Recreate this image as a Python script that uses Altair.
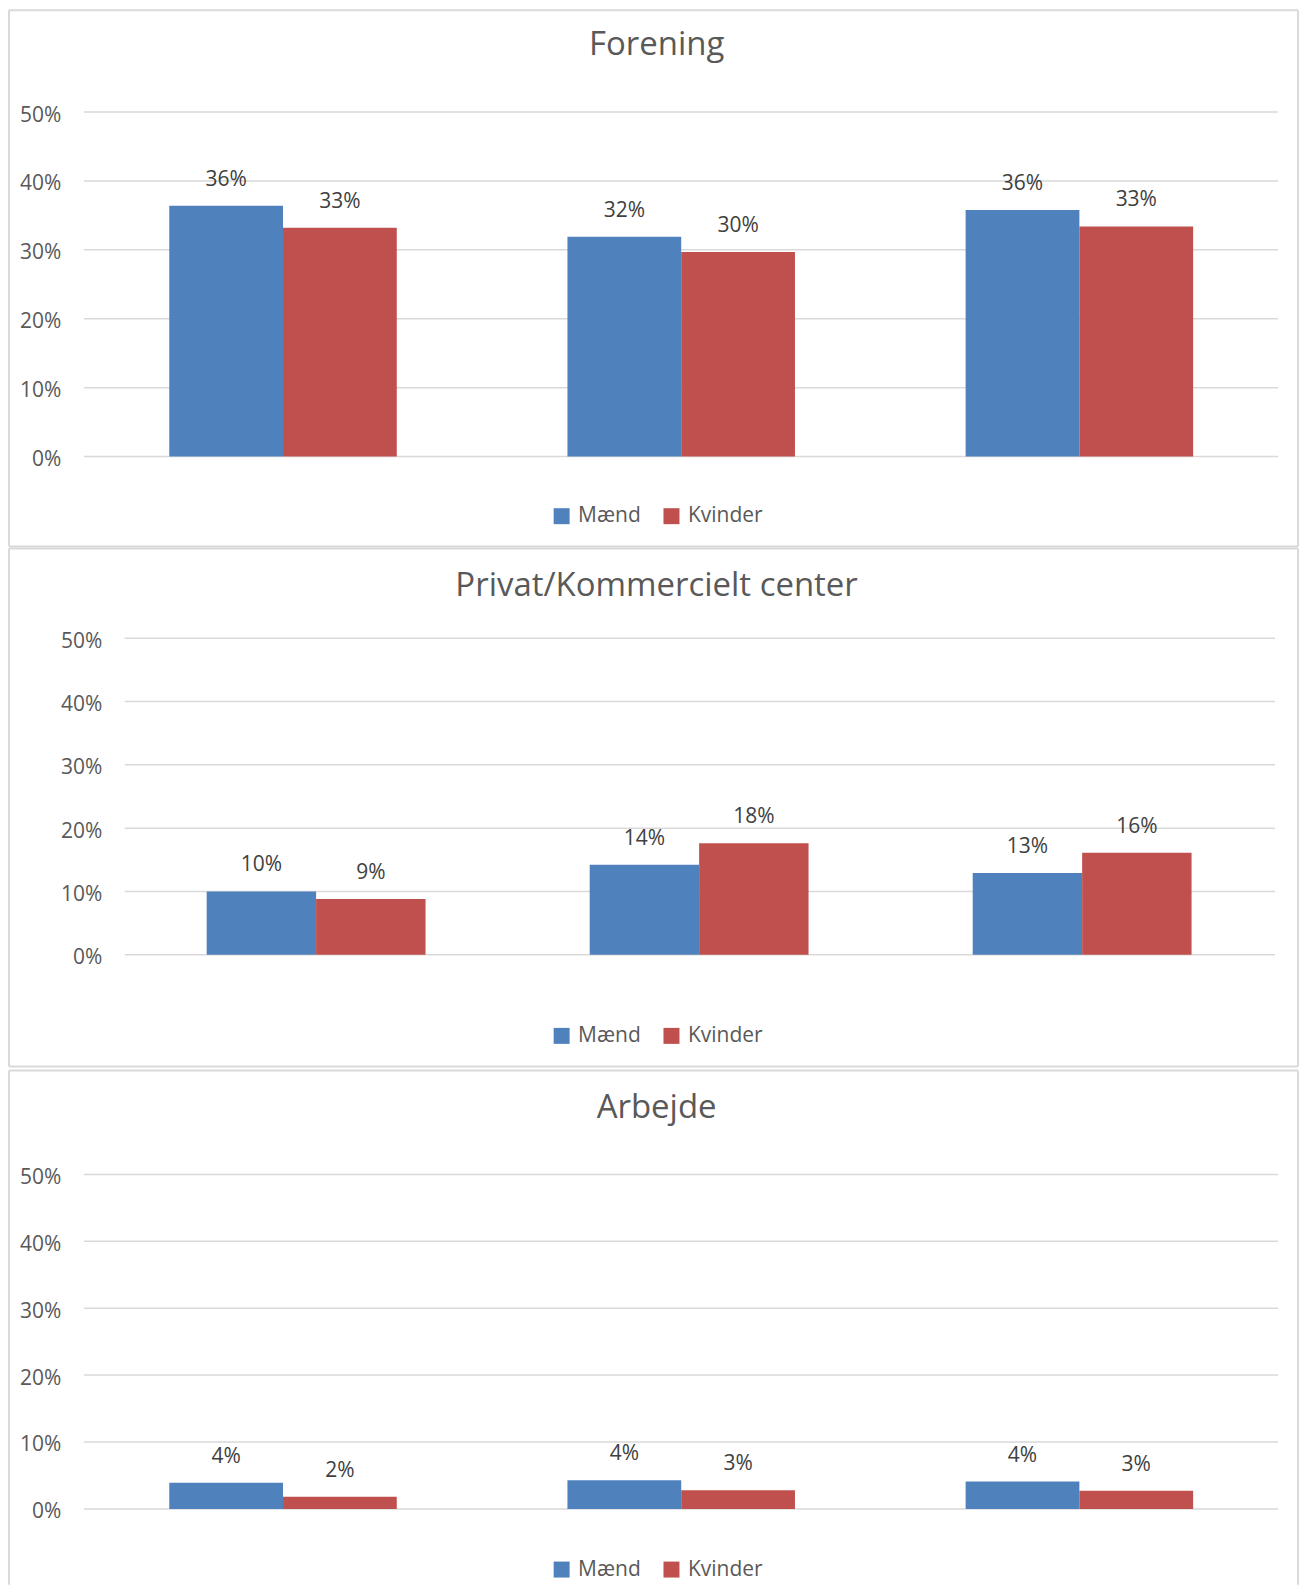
import altair as alt
import pandas as pd

categories = ["Gruppe 1", "Gruppe 2", "Gruppe 3"]
series = ["Mænd", "Kvinder"]
colors = ["#4F81BD", "#C0504D"]
tick_values = [0, 10, 20, 30, 40, 50]

panel_titles = ["Forening", "Privat/Kommercielt center", "Arbejde"]
forening_maend = [36.4, 31.9, 35.8]
forening_kvinder = [33.2, 29.7, 33.4]
privat_maend = [10.0, 14.2, 12.9]
privat_kvinder = [8.8, 17.6, 16.1]
arbejde_maend = [3.9, 4.3, 4.1]
arbejde_kvinder = [1.8, 2.8, 2.7]

FONT = "Open Sans"
W = 1291
BORDER = "#D9D9D9"


def edge(**enc):
    return alt.Chart(pd.DataFrame({"k": [0]})).mark_rule(
        color=BORDER, strokeWidth=2
    ).encode(**enc)


def panel(title, maend, kvinder, height, ydomain, xpad_outer, xalign,
          grid_x, axis_offset, title_y, legend_y, bottom_edge=True):
    rows = []
    for c, m, k in zip(categories, maend, kvinder):
        rows.append({"kategori": c, "køn": "Mænd", "andel": m})
        rows.append({"kategori": c, "køn": "Kvinder", "andel": k})
    df = pd.DataFrame(rows)
    base = alt.Chart(df)
    x = alt.X("kategori:N", sort=categories, axis=None,
              scale=alt.Scale(paddingInner=0.4286, paddingOuter=xpad_outer, align=xalign))
    xo = alt.XOffset("køn:N", sort=series, scale=alt.Scale(paddingInner=0, paddingOuter=0))
    yscale = alt.Scale(domain=ydomain, nice=False, zero=False)
    yaxis = alt.Axis(values=tick_values, labelExpr="datum.value + '%'", domain=False,
                     ticks=False, grid=False, labelPadding=0, offset=axis_offset,
                     labelFont=FONT, labelFontSize=21, labelColor="#595959",
                     labelOffset=3, title=None)

    grid = alt.Chart(pd.DataFrame({"andel": tick_values})).mark_rule(
        color="#D9D9D9", strokeWidth=1.5
    ).encode(
        y=alt.Y("andel:Q", scale=yscale, axis=yaxis),
        x=alt.value(grid_x[0]), x2=alt.value(grid_x[1]),
    )

    bars = base.mark_bar().encode(
        x=x, xOffset=xo,
        y=alt.Y("andel:Q", scale=yscale, axis=yaxis),
        y2=alt.datum(0),
        color=alt.Color("køn:N", sort=series,
                        scale=alt.Scale(domain=series, range=colors),
                        legend=alt.Legend(orient="none", legendX=543, legendY=legend_y,
                                          direction="horizontal", title=None,
                                          symbolType="square", symbolSize=256,
                                          symbolStrokeWidth=0, labelFont=FONT,
                                          labelFontSize=21, labelColor="#595959",
                                          columnPadding=20, labelOffset=6, padding=0)),
    )

    labels = base.transform_calculate(
        etiket="round(datum.andel) + '%'"
    ).mark_text(font=FONT, fontSize=21, color="#404040", baseline="alphabetic", dy=-20).encode(
        x=x, xOffset=xo,
        y=alt.Y("andel:Q", scale=yscale, axis=yaxis),
        text="etiket:N",
    )

    ttl = alt.Chart(pd.DataFrame({"t": [title]})).mark_text(
        font=FONT, fontSize=33, color="#595959", baseline="middle", align="center"
    ).encode(x=alt.value(648.6), y=alt.value(title_y), text="t:N")

    edges = [
        edge(x=alt.value(0), x2=alt.value(W), y=alt.value(0)),
        edge(x=alt.value(0), y=alt.value(0), y2=alt.value(height)),
        edge(x=alt.value(W), y=alt.value(0), y2=alt.value(height)),
    ]
    if bottom_edge:
        edges.append(edge(x=alt.value(0), x2=alt.value(W), y=alt.value(height)))

    return alt.layer(grid, bars, labels, ttl, *edges).properties(width=W, height=height)


p1 = panel(panel_titles[0], forening_maend, forening_kvinder, 537, [-13.04, 64.78],
           0.3329, 0.6045, (75, 1271), -52, 35, 496)
p2 = panel(panel_titles[1], privat_maend, privat_kvinder, 519, [-17.67, 64.20],
           0.397, 0.650, (116, 1268), -93, 37.5, 477.5)
p3 = panel(panel_titles[2], arbejde_maend, arbejde_kvinder, 515, [-11.34, 65.52],
           0.3329, 0.6045, (75, 1271), -52, 37, 489, bottom_edge=False)

top = alt.vconcat(p1, p2, spacing=0).resolve_scale(color="independent", xOffset="independent")
chart = alt.vconcat(top, p3, spacing=2).resolve_scale(
    color="independent", xOffset="independent"
).properties(
    padding=0, background="white"
).configure_view(strokeWidth=0)

chart.save("out.html", embed_options={"renderer": "svg", "actions": False})
